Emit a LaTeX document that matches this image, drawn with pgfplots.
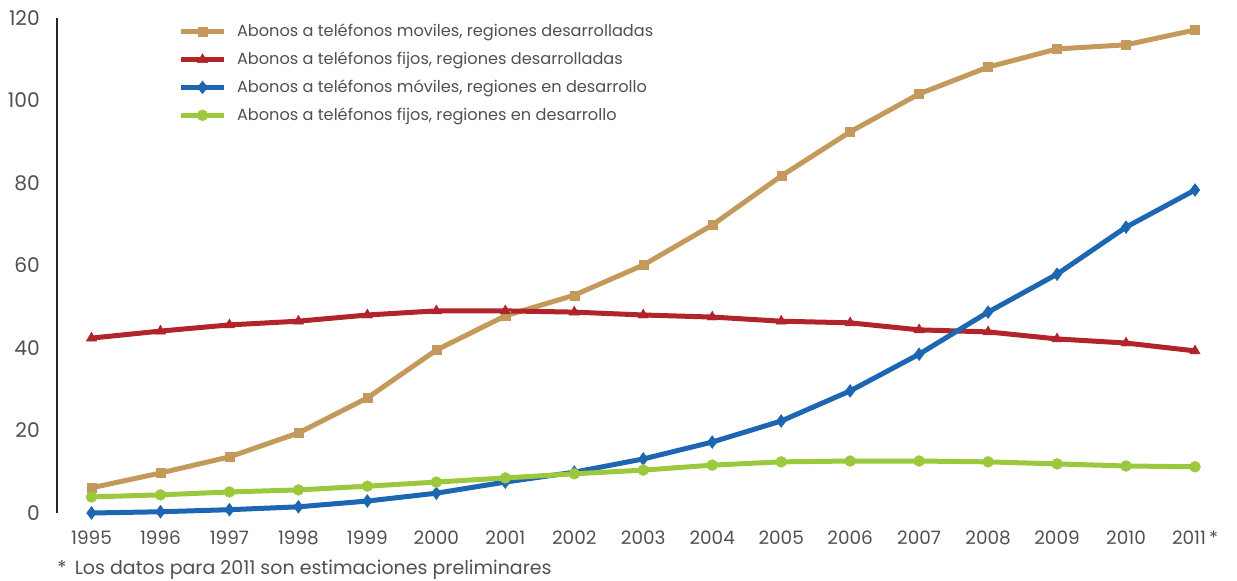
\documentclass[border=0pt]{standalone}
\usepackage{pgfplots}
\pgfplotsset{compat=1.18}
\usepackage{fontspec}
\setmainfont{Poppins}
\definecolor{tanc}{HTML}{C49A5C}
\definecolor{redc}{HTML}{B0242A}
\definecolor{bluec}{HTML}{1C66B2}
\definecolor{greenc}{HTML}{9BC83C}
\definecolor{txt}{HTML}{505050}
\begin{document}
\begin{tikzpicture}
\begin{axis}[
  scale only axis, width=234.5mm, height=99mm,
  xmin=-0.5, xmax=16.5, ymin=0, ymax=120,
  axis x line*=bottom, axis y line*=left,
  x axis line style={draw=none},
  y axis line style={-, black!85, line width=0.3mm},
  xtick={0,...,16},
  xticklabels={1995,1996,1997,1998,1999,2000,2001,2002,2003,2004,2005,2006,2007,2008,2009,2010,2011\,*},
  ytick={0,20,...,120},
  major tick length=0pt,
  /pgf/number format/assume math mode=true,
  tick label style={text=txt},
  yticklabel style={xshift=-2.2mm, font=\fontsize{11.5pt}{13pt}\selectfont},
  xticklabel style={yshift=-2.4mm, font=\fontsize{10.5pt}{12pt}\selectfont},
  legend style={at={(axis cs:1.18,120.3)}, anchor=north west, draw=none, fill=none,
    text=txt, font=\fontsize{9.2pt}{11pt}\selectfont, row sep=1.1mm},
  legend cell align=left,
  legend image code/.code={\draw[mark repeat=2,mark phase=2,#1] plot coordinates {(0cm,0cm)(0.43cm,0cm)(0.86cm,0cm)};\path (1.0cm,0);},
  every axis plot/.append style={line width=1mm},
  clip=false,
]
\addplot[tanc, mark=square*, mark size=0.9mm, mark options={solid, line width=0.2pt}] coordinates {
(0,6.1)(1,9.7)(2,13.6)(3,19.4)(4,27.9)(5,39.5)(6,47.8)(7,52.8)(8,60.1)(9,69.8)(10,81.7)(11,92.4)(12,101.6)(13,108.1)(14,112.5)(15,113.5)(16,117.1)};
\addlegendentry{Abonos a teléfonos moviles, regiones desarrolladas}
\addplot[redc, mark=triangle*, mark size=1.2mm, mark options={solid, line width=0.2pt}] coordinates {
(0,42.4)(1,44.1)(2,45.6)(3,46.5)(4,48.0)(5,49.0)(6,49.0)(7,48.7)(8,48.0)(9,47.5)(10,46.5)(11,46.1)(12,44.4)(13,43.9)(14,42.2)(15,41.2)(16,39.3)};
\addlegendentry{Abonos a teléfonos fijos, regiones desarrolladas}
\addplot[bluec, mark=diamond*, mark size=1.3mm, mark options={solid, line width=0.2pt}] coordinates {
(0,0.0)(1,0.3)(2,0.8)(3,1.5)(4,2.9)(5,4.8)(6,7.5)(7,9.9)(8,13.1)(9,17.2)(10,22.3)(11,29.6)(12,38.5)(13,48.7)(14,57.9)(15,69.3)(16,78.3)};
\addlegendentry{Abonos a teléfonos móviles, regiones en desarrollo}
\addplot[greenc, mark=*, mark size=1.1mm, mark options={solid, line width=0.2pt}] coordinates {
(0,3.9)(1,4.4)(2,5.1)(3,5.6)(4,6.5)(5,7.5)(6,8.5)(7,9.5)(8,10.4)(9,11.6)(10,12.4)(11,12.6)(12,12.6)(13,12.4)(14,11.9)(15,11.4)(16,11.2)};
\addlegendentry{Abonos a teléfonos fijos, regiones en desarrollo}
\node[anchor=base west, inner sep=0pt, text=txt, font=\fontsize{10.8pt}{12pt}\selectfont, yshift=-12.2mm] at (rel axis cs:0,0) {*\, Los datos para 2011 son estimaciones preliminares};
\end{axis}
\pgfresetboundingbox
\useasboundingbox (-11.4mm,-13.4mm) rectangle (236mm,102.6mm);
\end{tikzpicture}
\end{document}
